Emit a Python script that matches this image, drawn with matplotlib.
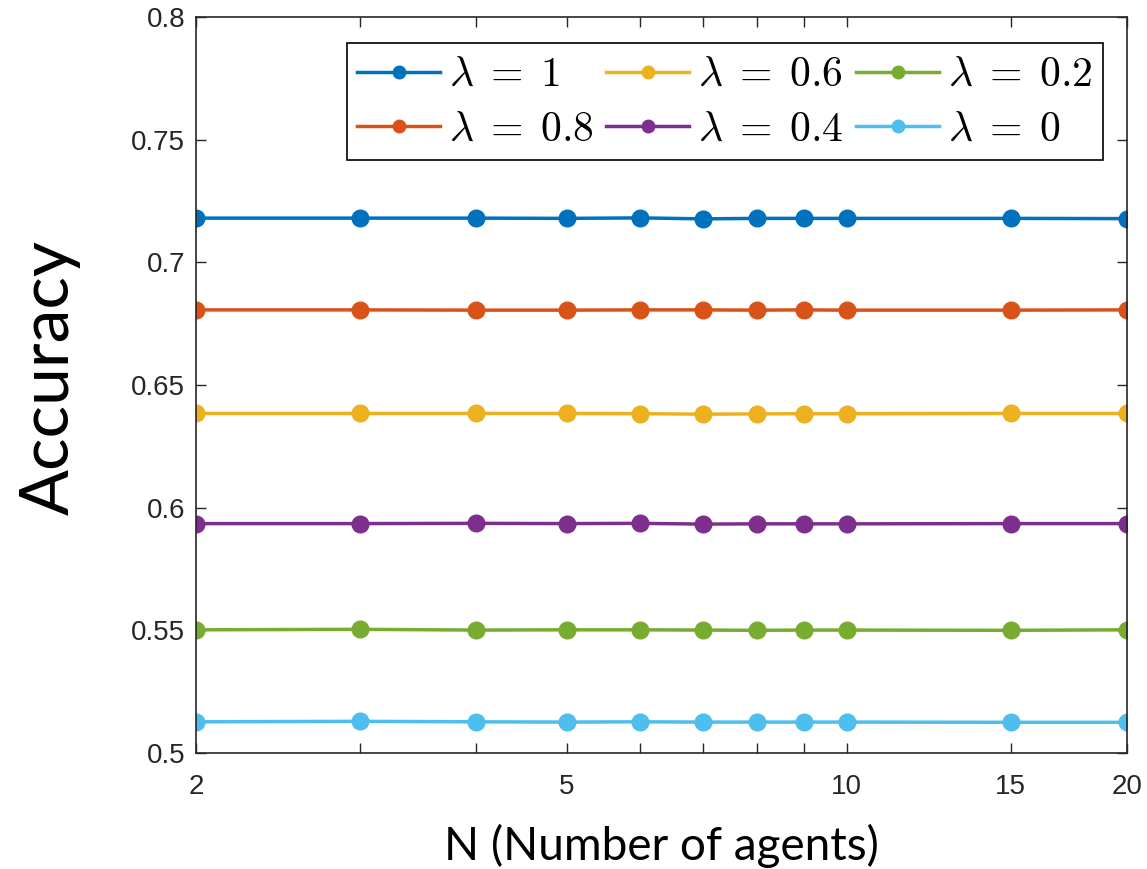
import matplotlib
matplotlib.use("Agg")
import matplotlib.pyplot as plt
from matplotlib.ticker import FixedLocator, FixedFormatter, NullLocator

plt.rcParams['mathtext.fontset'] = 'cm'

# agents on the x axis
n_agents = [2, 3, 4, 5, 6, 7, 8, 9, 10, 15, 20]

# accuracy for each lambda
acc_l10 = [0.7180, 0.7180, 0.7180, 0.7179, 0.7181, 0.7177, 0.7179, 0.7179, 0.7179, 0.7179, 0.7178]
acc_l08 = [0.6806, 0.6806, 0.6805, 0.6805, 0.6806, 0.6806, 0.6805, 0.6806, 0.6805, 0.6805, 0.6806]
acc_l06 = [0.6384, 0.6384, 0.6384, 0.6384, 0.6383, 0.6381, 0.6382, 0.6383, 0.6383, 0.6384, 0.6384]
acc_l04 = [0.5935, 0.5935, 0.5936, 0.5935, 0.5936, 0.5933, 0.5934, 0.5934, 0.5934, 0.5935, 0.5935]
acc_l02 = [0.5502, 0.5504, 0.5501, 0.5502, 0.5502, 0.5501, 0.5500, 0.5501, 0.5501, 0.5500, 0.5502]
acc_l00 = [0.5127, 0.5129, 0.5127, 0.5126, 0.5127, 0.5126, 0.5126, 0.5126, 0.5126, 0.5125, 0.5125]

series = [acc_l10, acc_l08, acc_l06, acc_l04, acc_l02, acc_l00]
labels = [r'$\lambda\;=\;1$', r'$\lambda\;=\;0.8$', r'$\lambda\;=\;0.6$',
          r'$\lambda\;=\;0.4$', r'$\lambda\;=\;0.2$', r'$\lambda\;=\;0$']
colors = ['#0072BD', '#D95319', '#EDB120', '#7E2F8E', '#77AC30', '#4DBEEE']

xtick_labels = ['2', '', '', '5', '', '', '', '', '10', '15', '20']

fig = plt.figure(figsize=(11.47, 8.69), dpi=100)
ax = fig.add_axes([0.171, 0.1335, 0.8115, 0.847])

for y, lab, c in zip(series, labels, colors):
    ax.plot(n_agents, y, '-o', color=c, lw=2.5, markersize=12, label=lab)

ax.set_xscale('log')
ax.set_xlim(2, 20)
ax.set_ylim(0.5, 0.8)
ax.xaxis.set_major_locator(FixedLocator(n_agents))
ax.xaxis.set_major_formatter(FixedFormatter(xtick_labels))
ax.xaxis.set_minor_locator(NullLocator())
ax.set_yticks([0.5, 0.55, 0.6, 0.65, 0.7, 0.75, 0.8])
ax.set_yticklabels(['0.5', '0.55', '0.6', '0.65', '0.7', '0.75', '0.8'])

ax.tick_params(direction='in', top=True, right=True, length=7, width=1,
               color='#262626', labelcolor='#262626', labelsize=20,
               labelfontfamily='Liberation Sans')
ax.tick_params(axis='x', pad=15)
ax.tick_params(axis='y', pad=8)
for s in ax.spines.values():
    s.set_color('#262626')
    s.set_linewidth(1.2)

leg = ax.legend(ncol=3, loc='upper right', bbox_to_anchor=(0.974, 0.965),
                borderaxespad=0, fontsize=30, frameon=True, fancybox=False,
                edgecolor='black', framealpha=1, handlelength=2.0,
                handletextpad=0.2, columnspacing=0.3, labelspacing=0.3,
                borderpad=0.25, markerscale=0.75)
leg.get_frame().set_linewidth(1.2)

fig.text(0.043, 0.566, 'Accuracy', rotation=90, fontsize=49, family='Lato',
         ha='center', va='center')
fig.text(0.577, 0.027, 'N (Number of agents)', fontsize=33, family='Lato',
         ha='center', va='center')

fig.savefig('out.png', dpi=100)
